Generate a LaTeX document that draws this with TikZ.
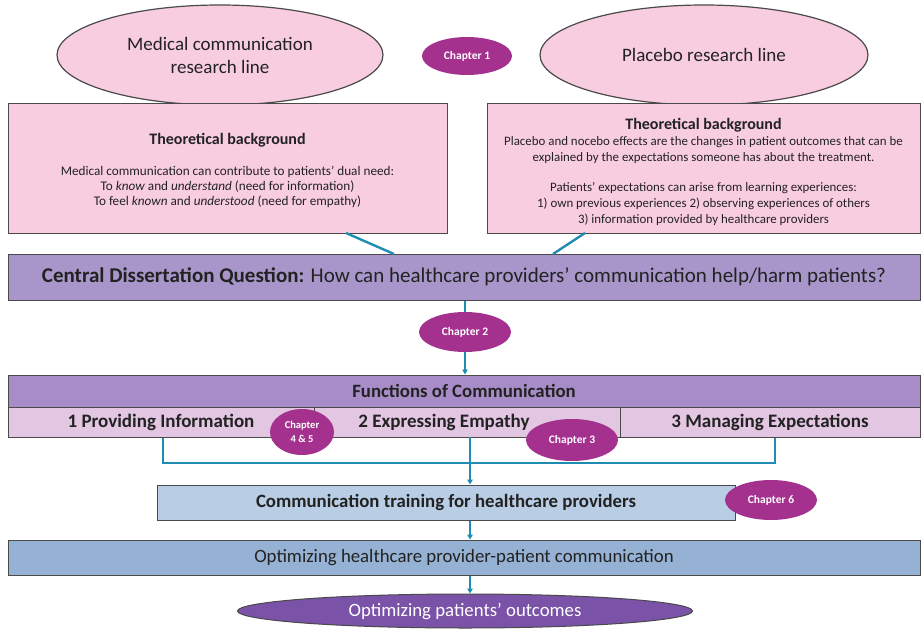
\documentclass[tikz,border=0pt]{standalone}
\usepackage{fontspec}
\setmainfont{Carlito}
\usetikzlibrary{shapes.geometric,arrows.meta}
\definecolor{pinkfill}{HTML}{F8CDE0}
\definecolor{boxline}{HTML}{4A4A4A}
\definecolor{questfill}{HTML}{A896CA}
\definecolor{funcfill}{HTML}{A78CC8}
\definecolor{cellfill}{HTML}{E2C6E2}
\definecolor{trainfill}{HTML}{B9CDE5}
\definecolor{optfill}{HTML}{95B2D4}
\definecolor{outfill}{HTML}{7A52A8}
\definecolor{chapfill}{HTML}{A5318F}
\definecolor{link}{HTML}{1F8CB4}
\definecolor{textdark}{HTML}{222222}
\begin{document}
\begin{tikzpicture}[x=1pt,y=-1pt,text=textdark,
  lineell/.style={ellipse,draw=boxline,line width=1.2pt,fill=pinkfill,inner sep=0pt,align=center,font=\fontsize{19}{23}\selectfont},
  bgbox/.style={draw=boxline,line width=1pt,fill=pinkfill,inner sep=0pt},
  bgtext/.style={align=center,inner sep=0pt,font=\fontsize{13.2}{15}\selectfont},
  widebox/.style={draw=boxline,line width=1pt,inner sep=0pt,align=center,minimum width=912pt},
  cell/.style={draw=boxline,line width=1pt,fill=cellfill,minimum height=30pt,inner sep=0pt,font=\fontsize{19}{22}\selectfont\bfseries},
  chapter/.style={ellipse,fill=chapfill,text=white,inner sep=0pt,align=center,font=\fontsize{11.5}{13}\selectfont\bfseries},
  conn/.style={draw=link,line width=1.6pt},
  arr/.style={conn,-{Triangle[length=5pt,width=5.5pt]}}
]
\useasboundingbox (0,0) rectangle (921,629);

% research lines
\node[lineell,minimum width=326pt,minimum height=100pt] (medline) at (220,55) {Medical communication\\research line};
\node[lineell,minimum width=328pt,minimum height=100pt] (plaline) at (704,55) {Placebo research line};
\node[chapter,minimum width=90pt,minimum height=38pt] (ch1) at (467,56) {Chapter 1};

% theoretical background boxes
\node[bgbox,minimum width=439pt,minimum height=130pt] (medbg) at (227.5,168) {};
\node[bgtext] (medbgtext) at (227.5,170.5)
  {{\fontsize{16}{18}\selectfont\bfseries Theoretical background}\\[16pt]
   Medical communication can contribute to patients' dual need:\\
   To \textit{know} and \textit{understand} (need for information)\\
   To feel \textit{known} and \textit{understood} (need for empathy)};
\node[bgbox,minimum width=433pt,minimum height=130pt] (plabg) at (703.5,168) {};
\node[bgtext,font=\fontsize{12.9}{16}\selectfont] (plabgtext) at (703.5,172)
  {{\fontsize{16}{18}\selectfont\bfseries Theoretical background}\\
   Placebo and nocebo effects are the changes in patient outcomes that can be\\
   explained by the expectations someone has about the treatment.\\[14pt]
   Patients’ expectations can arise from learning experiences:\\
   1) own previous experiences 2) observing experiences of others\\
   3) information provided by healthcare providers};

% central question
\node[widebox,fill=questfill,minimum height=46pt,font=\fontsize{21}{24}\selectfont] (quest) at (464,277)
  {\textbf{Central Dissertation Question:} How can healthcare providers’ communication help/harm patients?};

\draw[conn,line width=2.4pt] (346,233) -- (394,254);
\draw[conn,line width=2.4pt] (585,233) -- (553,254);

\node[chapter,minimum width=92pt,minimum height=40pt] (ch2) at (465,332) {Chapter 2};
\draw[conn] (quest.south -| ch2) -- (ch2.north);

% functions of communication
\node[widebox,fill=funcfill,minimum height=32pt,font=\fontsize{18.8}{22}\selectfont\bfseries] (func) at (464,391) {Functions of Communication};
\draw[arr] (ch2.south) -- (func.north -| ch2);

\node[cell,minimum width=306pt] (info) at (161,422) {1 Providing Information};
\node[cell,minimum width=306pt] (empa) at (467,422) {\hspace*{-46pt}2 Expressing Empathy};
\node[cell,minimum width=300pt] (expe) at (770,422) {3 Managing Expectations};

\node[chapter,minimum width=64pt,minimum height=46pt,font=\fontsize{10.5}{14}\selectfont\bfseries] (ch45) at (302,432) {Chapter\\4 \& 5};
\node[chapter,minimum width=92pt,minimum height=42pt] (ch3) at (572,440) {Chapter 3};

% training
\node[draw=boxline,line width=1pt,fill=trainfill,minimum width=578pt,minimum height=35pt,inner sep=0pt,font=\fontsize{18.8}{22}\selectfont\bfseries] (train) at (446,502.5) {Communication training for healthcare providers};
\node[chapter,minimum width=92pt,minimum height=40pt] (ch6) at (771,500) {Chapter 6};

\coordinate (joinL) at (163,463);
\coordinate (joinR) at (775,463);
\draw[conn] (info.south -| joinL) -- (joinL) -- (joinR) -- (expe.south -| joinR);
\draw[arr] (470,437) -- (train.north -| 470,0);

% outcomes
\node[widebox,fill=optfill,minimum height=35pt,font=\fontsize{18.8}{22}\selectfont] (opt) at (464,557.5) {Optimizing healthcare provider-patient communication};
\draw[arr] (train.south -| 470,0) -- (opt.north -| 470,0);

\node[ellipse,draw=boxline,line width=1pt,fill=outfill,text=white,minimum width=455pt,minimum height=34pt,inner sep=0pt,font=\fontsize{18.8}{22}\selectfont] (outc) at (465,611) {Optimizing patients’ outcomes};
\draw[arr] (opt.south -| 470,0) -- (outc.north -| 470,0);
\end{tikzpicture}
\end{document}
